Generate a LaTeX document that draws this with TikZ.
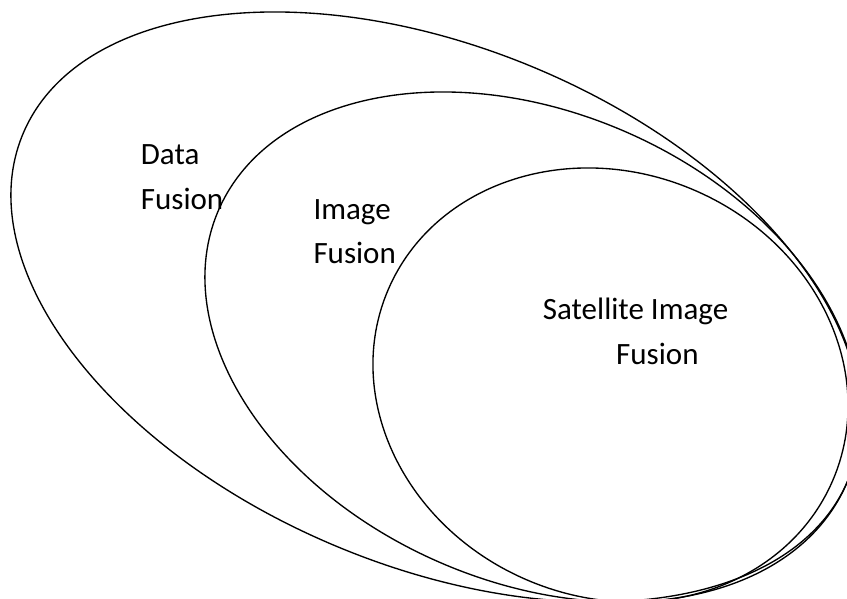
\documentclass[tikz,border=0pt]{standalone}
\usepackage{fontspec}
\setmainfont{Carlito}
\begin{document}
\begin{tikzpicture}[x=1pt,y=1pt,
  ring/.style={draw=black,line width=1.35pt},
  lbl/.style={anchor=base west,inner sep=0pt,font=\fontsize{31}{37}\selectfont}]
\useasboundingbox (0,0) rectangle (847,599);
\clip (0,0) rectangle (847,599);
% nested sets: data fusion > image fusion > satellite image fusion
\draw[ring,shift={(435.5,292)},rotate=-22.78] (0,0) ellipse [x radius=447.4pt,y radius=259pt];
\draw[ring,shift={(532.5,252)},rotate=-23.66] (0,0) ellipse [x radius=342.5pt,y radius=234.5pt];
\draw[ring,shift={(610.5,214)},rotate=-23.22] (0,0) ellipse [x radius=241.9pt,y radius=212.1pt];
% labels
\node[lbl] (data1) at (140.7,434.7) {Data};
\node[lbl] (data2) at (140.7,389.7) {Fusion};
\node[lbl] (img1) at (313.3,379) {Image};
\node[lbl] (img2) at (313.3,335.7) {Fusion};
\node[lbl] (sat1) at (542.7,279.7) {Satellite Image};
\node[lbl] (sat2) at (616,234) {Fusion};
\end{tikzpicture}
\end{document}
